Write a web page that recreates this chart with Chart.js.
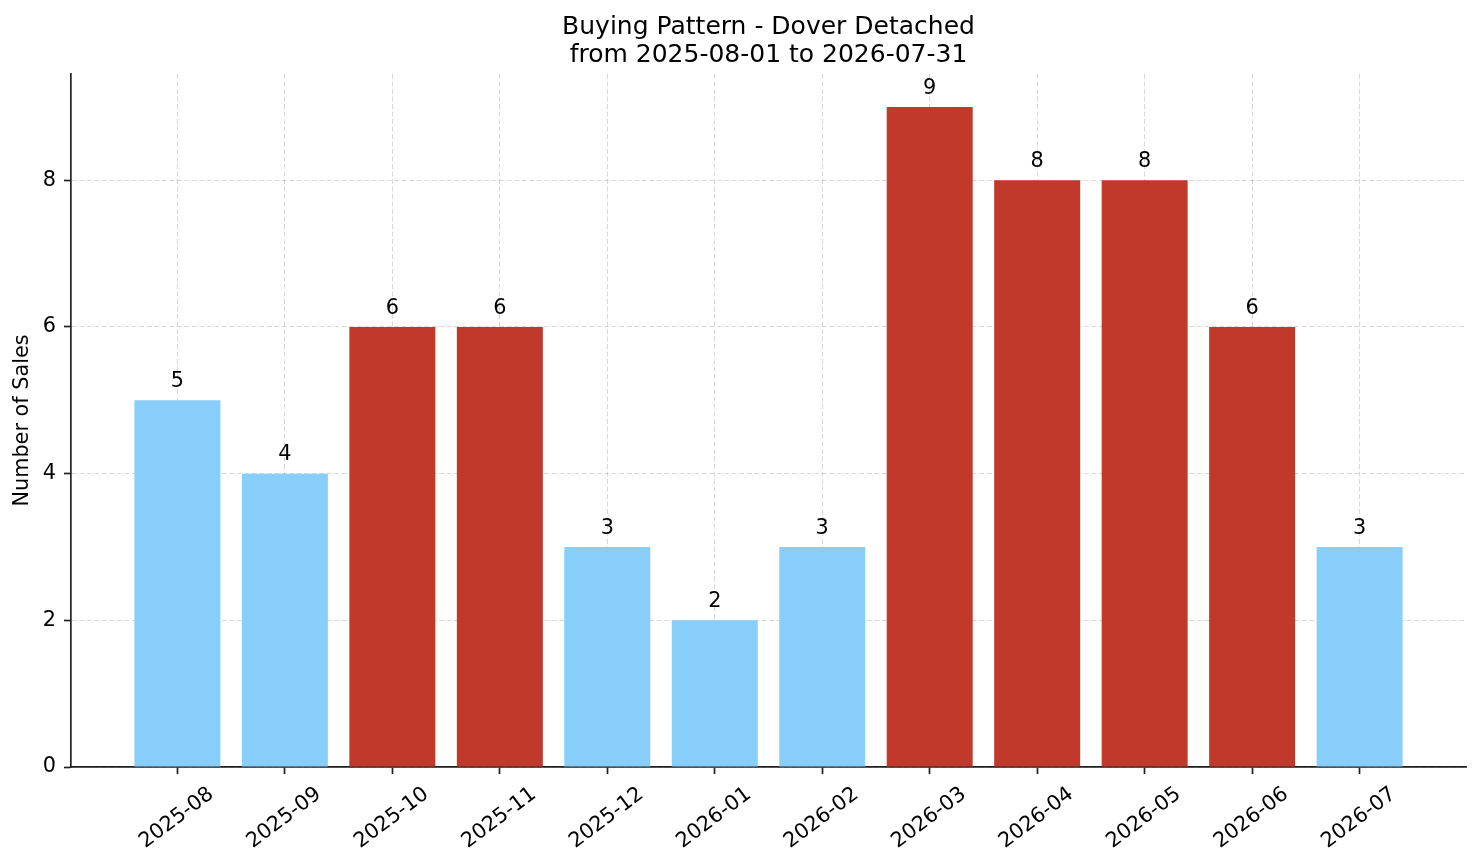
<!DOCTYPE html>
<html>
<head>
<meta charset="utf-8">
<script src="https://cdn.jsdelivr.net/npm/chart.js@4.4.1/dist/chart.umd.min.js"></script>
<style>
  html, body { margin: 0; padding: 0; background: #fff; }
  #wrap { width: 1481px; height: 863px; position: relative; }
</style>
</head>
<body>
<div id="wrap"><canvas id="c"></canvas></div>
<script>
const months = ["2025-08","2025-09","2025-10","2025-11","2025-12","2026-01","2026-02","2026-03","2026-04","2026-05","2026-06","2026-07"];
const sales = [5, 4, 6, 6, 3, 2, 3, 9, 8, 8, 6, 3];
const highMonth = [false, false, true, true, false, false, false, true, true, true, true, false];
const yTicks = [0, 2, 4, 6, 8];
const titleLines = ["Buying Pattern - Dover Detached", "from 2025-08-01 to 2026-07-31"];
const yTitle = "Number of Sales";

const BLUE = "#87CEFA";
const RED = "#C0392B";
const FONT = "'DejaVu Sans', sans-serif";
const FS = 20.8;

const valueLabels = {
  id: "valueLabels",
  afterDatasetsDraw(chart) {
    const ctx = chart.ctx;
    const meta = chart.getDatasetMeta(0);
    ctx.save();
    ctx.font = FS + "px " + FONT;
    ctx.fillStyle = "#000";
    ctx.textAlign = "center";
    ctx.textBaseline = "alphabetic";
    meta.data.forEach((bar, i) => {
      ctx.fillText(String(sales[i]), bar.x, bar.y - 13.5);
    });
    ctx.restore();
  }
};

const gridOpts = {
  display: true,
  offset: false,
  color: "rgba(0,0,0,0.17)",
  lineWidth: 0.9,
  drawTicks: true,
  tickLength: 7,
  tickColor: "#222",
  tickWidth: 1.7,
  tickBorderDash: []
};
const borderOpts = { display: true, color: "#222", width: 1.7, dash: [5, 2.5] };

new Chart(document.getElementById("c"), {
  type: "bar",
  data: {
    datasets: [{
      data: sales.map((v, i) => ({ x: i, y: v })),
      backgroundColor: highMonth.map(h => h ? RED : BLUE),
      borderWidth: 0,
      barPercentage: 0.8,
      categoryPercentage: 1.0
    }]
  },
  options: {
    responsive: true,
    maintainAspectRatio: false,
    animation: false,
    layout: { padding: { left: 0, right: 15, top: 0, bottom: 0 } },
    plugins: {
      legend: { display: false },
      tooltip: { enabled: false },
      title: {
        display: true,
        fullSize: false,
        text: titleLines,
        color: "#000",
        font: { family: FONT, size: 25, weight: "normal", lineHeight: 1.12 },
        padding: { top: 13, bottom: 5 }
      }
    },
    scales: {
      x: {
        type: "linear",
        min: -0.99,
        max: 11.99,
        offset: false,
        z: 1,
        afterBuildTicks(scale) {
          scale.ticks = months.map((m, i) => ({ value: i }));
        },
        afterFit(scale) { scale.height = 96; },
        ticks: {
          autoSkip: false,
          minRotation: 37,
          maxRotation: 37,
          padding: 8,
          labelOffset: 34,
          color: "#000",
          font: { family: FONT, size: FS },
          callback: (v) => months[v] !== undefined ? months[v] : ""
        },
        grid: gridOpts,
        border: borderOpts
      },
      y: {
        min: 0,
        max: 9.45,
        z: 1,
        afterBuildTicks(scale) {
          scale.ticks = yTicks.map(v => ({ value: v }));
        },
        afterFit(scale) { scale.width = 71; },
        ticks: {
          padding: 8,
          color: "#000",
          font: { family: FONT, size: FS }
        },
        title: {
          display: true,
          text: yTitle,
          color: "#000",
          font: { family: FONT, size: FS },
          padding: { top: 10, bottom: 0 }
        },
        grid: gridOpts,
        border: borderOpts
      }
    }
  },
  plugins: [valueLabels]
});
</script>
</body>
</html>
